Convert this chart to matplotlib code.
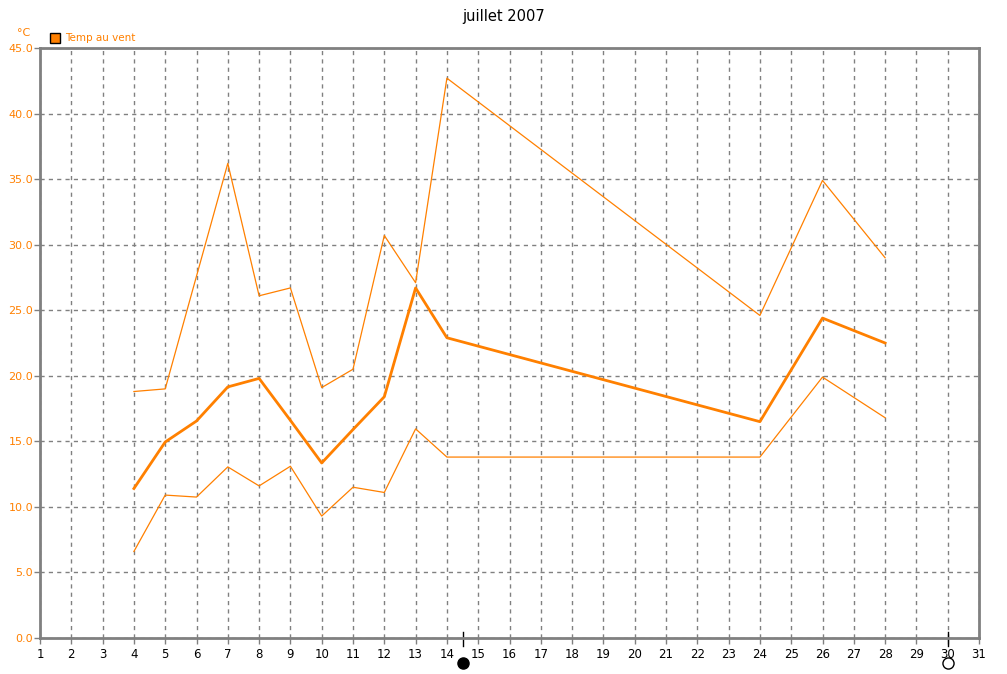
import numpy as np
import matplotlib
matplotlib.use("Agg")
import matplotlib.pyplot as plt
from matplotlib.patches import Rectangle

# daily temperatures, juillet 2007
days = [4, 5, 6, 7, 8, 9, 10, 11, 12, 13, 14, 24, 26, 28]
t_max = [18.8, 19.0, 27.6, 36.2, 26.1, 26.7, 19.1, 20.5, 30.7, 27.1, 42.7, 24.6, 34.9, 29.0]
t_mean = [11.4, 14.95, 16.55, 19.15, 19.8, 16.6, 13.35, 15.9, 18.4, 26.7, 22.9, 16.5, 24.4, 22.5]
t_min = [6.6, 10.9, 10.75, 13.05, 11.6, 13.1, 9.3, 11.5, 11.1, 15.95, 13.8, 13.8, 19.9, 16.8]

full_moon = 14.5
new_moon = 30.0

orange = "#FF8000"
grey = "#808080"

fig = plt.figure(figsize=(10.07, 6.74), dpi=100)
ax = fig.add_axes([40 / 1007, 36 / 674, 939 / 1007, 590 / 674])

ax.plot(days, t_max, color=orange, lw=0.9)
ax.plot(days, t_min, color=orange, lw=0.9)
ax.plot(days, t_mean, color=orange, lw=2.0)

ax.set_xlim(1, 31)
ax.set_ylim(0, 45)
ax.set_xticks(range(1, 32))
ax.set_yticks(np.arange(0, 45.1, 5))
ax.set_yticklabels([f"{v:.1f}" for v in np.arange(0, 45.1, 5)])
ax.tick_params(axis="x", colors=grey, labelcolor="black", labelsize=8.5, length=4, width=1, pad=3)
ax.tick_params(axis="y", colors=grey, labelcolor=orange, labelsize=8, length=4, width=1, pad=1)
ax.grid(True, color=grey, linestyle=(0, (3, 3)), lw=1)
for s in ax.spines.values():
    s.set_color(grey)
    s.set_linewidth(2)

# moon phases
for d, fc in [(full_moon, "black"), (new_moon, "white")]:
    ax.plot([d, d], [-0.6, 0.45], color="black", lw=1, clip_on=False)
    ax.plot(d, -1.9, marker="o", ms=8, mfc=fc, mec="black", mew=1, clip_on=False)

fig.text(0.5, 1 - 16 / 674, "juillet 2007", ha="center", va="center", fontsize=10.5)
fig.text(24 / 1007, 1 - 33 / 674, "°C", ha="center", va="center", fontsize=8, color=orange)
fig.patches.append(Rectangle((50 / 1007, 1 - 43 / 674), 10 / 1007, 10 / 674,
                             transform=fig.transFigure, facecolor=orange,
                             edgecolor="black", lw=1))
fig.text(65 / 1007, 1 - 38 / 674, "Temp au vent", ha="left", va="center", fontsize=7.5, color=orange)

fig.savefig("out.png", dpi=100)
